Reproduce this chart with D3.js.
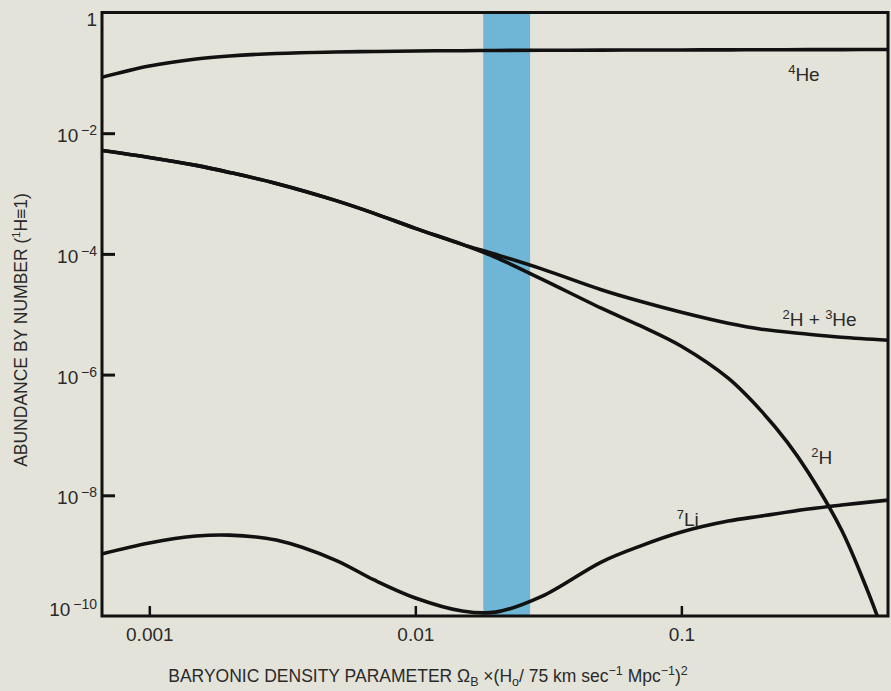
<!DOCTYPE html>
<html>
<head>
<meta charset="utf-8">
<script src="https://cdn.jsdelivr.net/npm/d3@7/dist/d3.min.js"></script>
<style>
  body { margin: 0; background: #e4e3da; }
  svg { display: block; font-family: Helvetica, Arial, "Liberation Sans", sans-serif; }
</style>
</head>
<body>
<script>
// waarden
var omega = [0.00066, 0.001, 0.0015, 0.002, 0.003, 0.005, 0.007, 0.01, 0.015, 0.02,
             0.03, 0.05, 0.07, 0.1, 0.15, 0.2, 0.3, 0.4, 0.6];
var he4 = [0.084, 0.130, 0.170, 0.1905, 0.2096, 0.222, 0.226, 0.2305, 0.233, 0.235,
           0.2366, 0.2384, 0.239, 0.2398, 0.2407, 0.2416, 0.2425, 0.243, 0.2435];
var dPlusHe3 = [5.19e-3, 3.97e-3, 2.93e-3, 2.24e-3, 1.47e-3, 7.71e-4, 4.70e-4, 2.65e-4, 1.44e-4, 9.85e-5,
                5.6e-5, 2.55e-5, 1.64e-5, 1.08e-5, 7.1e-6, 5.65e-6, 4.67e-6, 4.16e-6, 3.71e-6];
var omegaD = [0.00066, 0.001, 0.0015, 0.002, 0.003, 0.005, 0.007, 0.01, 0.015, 0.02,
              0.03, 0.05, 0.07, 0.1, 0.15, 0.2, 0.25, 0.3, 0.4, 0.5, 0.545];
var deut = [5.19e-3, 3.97e-3, 2.93e-3, 2.24e-3, 1.47e-3, 7.71e-4, 4.70e-4, 2.65e-4, 1.44e-4, 8.8e-5,
            3.79e-5, 1.26e-5, 6.45e-6, 2.95e-6, 8.71e-7, 2.48e-7, 7.6e-8, 2.38e-8, 2.66e-9, 2.69e-10, 1e-10];
var li7 = [1.06e-9, 1.62e-9, 2.11e-9, 2.19e-9, 1.81e-9, 8.46e-10, 3.95e-10, 1.99e-10, 1.21e-10, 1.16e-10,
           2.14e-10, 7.84e-10, 1.44e-9, 2.46e-9, 3.74e-9, 4.53e-9, 5.91e-9, 6.89e-9, 8.33e-9];
var band = [0.018, 0.027];

var xTicks = [0.001, 0.01, 0.1];
var xTickLabels = ["0.001", "0.01", "0.1"];
var yTicks = [1, 1e-2, 1e-4, 1e-6, 1e-8, 1e-10];
var yTickExp = ["", "\u22122", "\u22124", "\u22126", "\u22128", "\u221210"];

var width = 891, height = 691;

var x = d3.scaleLog().domain([0.000664, 0.598]).range([102, 888]);
var y = d3.scaleLog().domain([1e-10, 1]).range([616, 12.5]);

var svg = d3.select("body").append("svg")
    .attr("width", width)
    .attr("height", height);

svg.append("rect")
    .attr("width", width).attr("height", height)
    .attr("fill", "#e4e3da");

svg.append("clipPath").attr("id", "plot")
  .append("rect")
    .attr("x", x.range()[0]).attr("y", y.range()[1])
    .attr("width", x.range()[1] - x.range()[0])
    .attr("height", y.range()[0] - y.range()[1]);

// blauwe band
svg.append("rect")
    .attr("x", x(band[0]))
    .attr("width", x(band[1]) - x(band[0]))
    .attr("y", y(1))
    .attr("height", y(1e-10) - y(1))
    .attr("fill", "#6fb6d6");

var line = d3.line()
    .x(function(d) { return x(d[0]); })
    .y(function(d) { return y(d[1]); })
    .curve(d3.curveCatmullRom.alpha(0.5));

var curves = [d3.zip(omega, he4), d3.zip(omega, dPlusHe3), d3.zip(omegaD, deut), d3.zip(omega, li7)];

svg.append("g").attr("clip-path", "url(#plot)")
  .selectAll("path")
  .data(curves)
  .enter().append("path")
    .attr("d", line)
    .attr("fill", "none")
    .attr("stroke", "#111")
    .attr("stroke-width", 3.6)
    .attr("stroke-linejoin", "round");

// kader
svg.append("rect")
    .attr("x", x.range()[0]).attr("y", y.range()[1])
    .attr("width", x.range()[1] - x.range()[0])
    .attr("height", y.range()[0] - y.range()[1])
    .attr("fill", "none")
    .attr("stroke", "#111")
    .attr("stroke-width", 3);

// x-as
var xAxis = svg.append("g")
    .attr("transform", "translate(0," + y.range()[0] + ")")
    .call(d3.axisBottom(x)
        .tickValues(xTicks)
        .tickSize(-10)
        .tickPadding(12)
        .tickFormat(function(d, i) { return xTickLabels[i]; }));
xAxis.select(".domain").remove();
xAxis.selectAll("line").attr("stroke", "#111").attr("stroke-width", 2.5);
xAxis.selectAll("text").attr("fill", "#2a2a2a").style("font-size", "19px")
    .style("font-family", "Helvetica, Arial, 'Liberation Sans', sans-serif");

// y-as
var yAxis = svg.append("g")
    .attr("transform", "translate(" + x.range()[0] + ",0)")
    .call(d3.axisLeft(y)
        .tickValues(yTicks.slice(1, 5))
        .tickSize(-13)
        .tickFormat(""));
yAxis.select(".domain").remove();
yAxis.selectAll("line").attr("stroke", "#111").attr("stroke-width", 3);

var yLab = svg.append("g").selectAll("text")
    .data(yTicks)
    .enter().append("text")
    .attr("x", 97)
    .attr("y", function(d, i) {
        var off = 9;
        if (i == 0) off = 13;
        if (i == yTicks.length - 1) off = 0;
        return y(d) + off;
    })
    .attr("text-anchor", "end")
    .attr("fill", "#2a2a2a")
    .style("font-size", "19px");
yLab.append("tspan").text(function(d, i) { return i == 0 ? "1" : "10"; });
yLab.append("tspan")
    .attr("dy", -7)
    .style("font-size", "14px")
    .text(function(d, i) { return yTickExp[i] ? "\u2009" + yTickExp[i] : ""; });

// tekst met super- en subscript
function richText(sel, parts, small) {
  var shift = 0;
  parts.forEach(function(p) {
    var target = p[1] == "sup" ? -7 : p[1] == "sub" ? 4 : 0;
    sel.append("tspan")
      .attr("dy", target - shift)
      .style("font-size", p[1] == "n" ? null : small)
      .text(p[0]);
    shift = target;
  });
}

var xTitle = svg.append("text")
    .attr("x", 428).attr("y", 682)
    .attr("text-anchor", "middle")
    .attr("fill", "#2a2a2a")
    .style("font-size", "17.5px");
richText(xTitle, [["BARYONIC DENSITY PARAMETER \u03A9", "n"], ["B", "sub"], [" \u00D7(H", "n"], ["o", "sub"],
                  ["/ 75 km sec", "n"], ["\u22121", "sup"], [" Mpc", "n"], ["\u22121", "sup"], [")", "n"], ["2", "sup"]], "12.5px");

var yTitle = svg.append("text")
    .attr("transform", "translate(27,330) rotate(-90)")
    .attr("text-anchor", "middle")
    .attr("fill", "#2a2a2a")
    .style("font-size", "17.5px");
richText(yTitle, [["ABUNDANCE BY NUMBER (", "n"], ["1", "sup"], ["H\u22611)", "n"]], "11px");

// labels bij de lijnen
var labels = [
  {x: 0.252, y: 0.084, parts: [["4", "sup"], ["He", "n"]]},
  {x: 0.240, y: 7.4e-6, parts: [["2", "sup"], ["H + ", "n"], ["3", "sup"], ["He", "n"]]},
  {x: 0.308, y: 3.8e-8, parts: [["2", "sup"], ["H", "n"]]},
  {x: 0.096, y: 3.6e-9, parts: [["7", "sup"], ["Li", "n"]]}
];
labels.forEach(function(l) {
  var t = svg.append("text")
      .attr("x", x(l.x)).attr("y", y(l.y) + 4)
      .attr("fill", "#2a2a2a")
      .style("font-size", "19px");
  richText(t, l.parts, "13px");
});
</script>
</body>
</html>
